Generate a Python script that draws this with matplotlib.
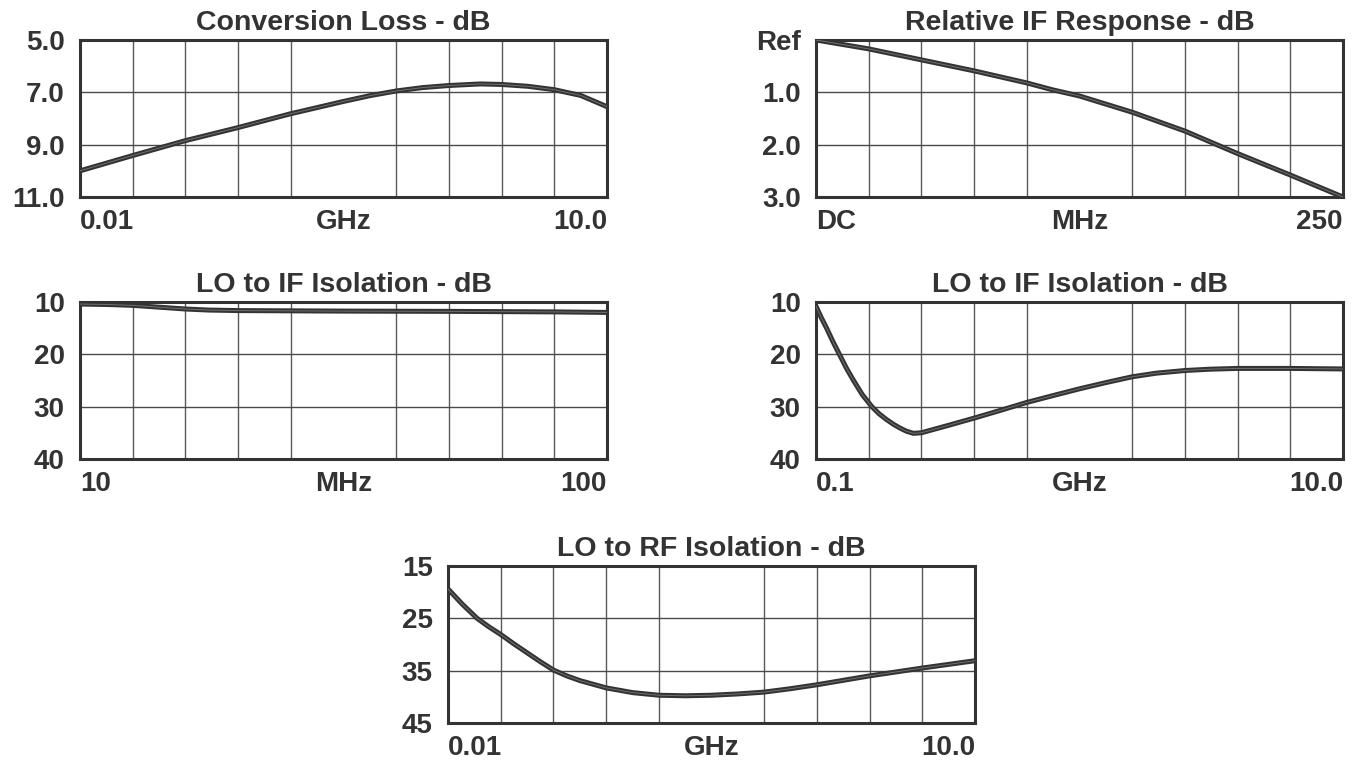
import numpy as np
import matplotlib
matplotlib.use("Agg")
import matplotlib.pyplot as plt

plt.rcParams['font.family'] = ['Liberation Sans', 'DejaVu Sans']
plt.rcParams['font.weight'] = 'bold'

INK = '#333333'

# Conversion Loss (GHz, dB)
cl_freq = [0.01, 1.0, 2.0, 3.0, 4.0, 5.0, 5.5, 6.0, 6.5, 7.0, 7.6, 8.0, 8.5, 9.0, 9.5, 10.0]
cl_db = [10.0, 9.42, 8.85, 8.35, 7.82, 7.35, 7.13, 6.95, 6.82, 6.74, 6.68, 6.7, 6.77, 6.9, 7.12, 7.55]

# Relative IF Response (MHz, dB)
if_freq = [0, 25, 50, 75, 100, 112, 125, 150, 175, 200, 225, 250]
if_db = [0.0, 0.17, 0.38, 0.59, 0.82, 0.95, 1.07, 1.38, 1.74, 2.17, 2.58, 3.0]

# LO to IF Isolation, 10-100 MHz
lif1_freq = [10, 15, 19, 23.5, 28, 32, 37, 46, 55, 73, 91, 100]
lif1_db = [10.4, 10.5, 10.65, 11.0, 11.35, 11.55, 11.65, 11.7, 11.75, 11.8, 11.9, 12.0]

# LO to IF Isolation, 0.1-10 GHz
lif2_freq = [0.1, 0.2, 0.3, 0.42, 0.54, 0.67, 0.8, 0.97, 1.15, 1.29, 1.43, 1.56,
             1.68, 1.8, 1.93, 2.08, 2.33, 2.58, 3.07, 3.57, 4.06, 4.55, 5.05,
             5.55, 6.04, 6.5, 7.03, 7.5, 8.02, 9.01, 10.0]
lif2_db = [10.8, 13.0, 15.0, 17.6, 20.0, 22.6, 24.9, 27.7, 30.0, 31.4, 32.5, 33.4,
           34.1, 34.7, 35.1, 35.0, 34.3, 33.6, 32.2, 30.7, 29.2, 27.9, 26.6,
           25.4, 24.3, 23.6, 23.1, 22.85, 22.7, 22.7, 22.8]

# LO to RF Isolation (GHz, dB)
lrf_freq = [0.01, 0.28, 0.56, 0.78, 1.01, 1.26, 1.51, 1.76, 2.01, 2.26, 2.51,
            3.01, 3.51, 4.01, 4.51, 5.0, 5.5, 6.0, 6.5, 7.0, 7.5, 8.0, 9.0, 10.0]
lrf_db = [19.4, 22.3, 25.0, 26.6, 28.1, 29.9, 31.6, 33.3, 34.9, 36.0, 36.9,
          38.3, 39.2, 39.7, 39.8, 39.7, 39.45, 39.1, 38.45, 37.7, 36.85, 36.0, 34.5, 33.1]

panels = [
    dict(title='Conversion Loss - dB', x=cl_freq, y=cl_db, xlim=(0.01, 10.0),
         xlabels=['0.01', 'GHz', '10.0'], yticks=[5, 7, 9, 11],
         ylabels=['5.0', '7.0', '9.0', '11.0'],
         rect=[0.0589, 0.7408, 0.3878, 0.2066]),
    dict(title='Relative IF Response - dB', x=if_freq, y=if_db, xlim=(0, 250),
         xlabels=['DC', 'MHz', '250'], yticks=[0, 1, 2, 3],
         ylabels=['Ref', '1.0', '2.0', '3.0'],
         rect=[0.6004, 0.7408, 0.3878, 0.2066]),
    dict(title='LO to IF Isolation - dB', x=lif1_freq, y=lif1_db, xlim=(10, 100),
         xlabels=['10', 'MHz', '100'], yticks=[10, 20, 30, 40],
         ylabels=['10', '20', '30', '40'],
         rect=[0.0589, 0.3961, 0.3878, 0.2066]),
    dict(title='LO to IF Isolation - dB', x=lif2_freq, y=lif2_db, xlim=(0.1, 10.0),
         xlabels=['0.1', 'GHz', '10.0'], yticks=[10, 20, 30, 40],
         ylabels=['10', '20', '30', '40'],
         rect=[0.6004, 0.3961, 0.3878, 0.2066]),
    dict(title='LO to RF Isolation - dB', x=lrf_freq, y=lrf_db, xlim=(0.01, 10.0),
         xlabels=['0.01', 'GHz', '10.0'], yticks=[15, 25, 35, 45],
         ylabels=['15', '25', '35', '45'],
         rect=[0.3297, 0.0487, 0.3878, 0.2066]),
]

fig = plt.figure(figsize=(13.59, 7.6), dpi=100)

for p in panels:
    ax = fig.add_axes(p['rect'])
    x0, x1 = p['xlim']
    ax.set_xlim(x0, x1)
    ax.set_ylim(p['yticks'][-1], p['yticks'][0])

    ax.set_xticks([x0, (x0 + x1) / 2, x1])
    ax.set_xticklabels(p['xlabels'])
    ax.set_xticks(np.linspace(x0, x1, 11), minor=True)
    for lab, ha in zip(ax.get_xticklabels(), ['left', 'center', 'right']):
        lab.set_horizontalalignment(ha)
    ax.set_yticks(p['yticks'])
    ax.set_yticklabels(p['ylabels'])

    ax.tick_params(axis='x', which='both', length=0, pad=9, labelsize=20, labelcolor=INK)
    ax.tick_params(axis='y', which='both', length=0, pad=11, labelsize=20, labelcolor=INK)

    ax.grid(True, axis='x', which='minor', color='#5a5a5a', lw=1.0)
    ax.grid(True, axis='y', which='major', color='#4a4a4a', lw=1.0)
    ax.grid(False, axis='x', which='major')

    for s in ax.spines.values():
        s.set_linewidth(2.2)
        s.set_color(INK)

    ax.plot(p['x'], p['y'], color='#333333', lw=3.6, solid_capstyle='butt',
            solid_joinstyle='round', zorder=3)
    ax.plot(p['x'], p['y'], color='#707070', lw=0.7, zorder=4)

    ax.set_title(p['title'], fontsize=20.5, fontweight='bold', color=INK, pad=7)

fig.savefig('out.png', dpi=100)
